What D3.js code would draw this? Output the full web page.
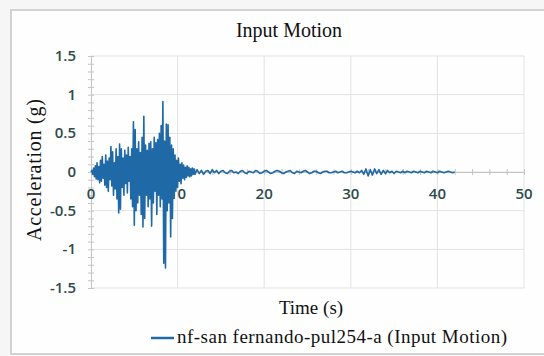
<!DOCTYPE html>
<html>
<head>
<meta charset="utf-8">
<script src="https://cdn.jsdelivr.net/npm/d3@7"></script>
<style>
html,body{margin:0;padding:0;background:#f6f6f6;}
svg{display:block;}
</style>
</head>
<body>
<svg id="chart" width="544" height="356"></svg>
<script>
// ---- data ----
const title = "Input Motion";
const xLabel = "Time (s)";
const yLabel = "Acceleration (g)";
const seriesName = "nf-san fernando-pul254-a (Input Motion)";
const xTicks = [0, 10, 20, 30, 40, 50];
const yTicks = [-1.5, -1, -0.5, 0, 0.5, 1, 1.5];
const yTickLabels = ["-1.5", "-1", "-0.5", "0", "0.5", "1", "1.5"];

// strong-motion part: t = 0.0 .. 12.0 s, every 0.1 s
const strongStart = 0, strongStep = 0.1;
const strongAccel = [
  0, 0.02, -0.03, 0.05, -0.06, 0.08, -0.09, 0.12, -0.1, 0.07,
  -0.14, 0.15, -0.12, 0.2, -0.08, 0.1, -0.17, 0.22, -0.2, 0.14,
  -0.25, 0.18, -0.1, 0.33, -0.18, 0.26, -0.3, 0.12, -0.22, 0.3,
  -0.35, 0.2, -0.53, 0.36, -0.48, 0.3, -0.2, 0.18, -0.3, 0.28,
  -0.15, 0.22, -0.27, 0.32, -0.12, 0.2, -0.35, 0.3, -0.45, 0.65,
  -0.69, 0.55, -0.5, 0.3, -0.4, 0.39, -0.3, 0.25, -0.55, 0.45,
  -0.71, 0.72, -0.6, 0.35, -0.3, 0.28, -0.45, 0.37, -0.35, 0.39,
  -0.7, 0.3, -0.4, 0.45, -0.25, 0.38, -0.55, 0.42, -0.3, 0.5,
  -0.45, 0.6, -0.35, 0.91, -1.18, 0.4, -1.24, 0.62, -0.5, 0.61,
  -0.4, 0.45, -0.84, 0.35, -0.6, 0.3, -0.3, 0.22, -0.25, 0.15,
  -0.2, 0.18, -0.12, 0.1, -0.15, 0.12, -0.08, 0.09, -0.1, 0.06,
  -0.07, 0.08, -0.05, 0.06, -0.06, 0.04, -0.05, 0.05, -0.03, 0.04,
  -0.03
];
// coda: t = 12.25 .. 42.0 s, every 0.25 s
const tailStart = 12.25, tailStep = 0.25;
const tailAccel = [
  0.03, -0.02, 0.02, -0.03, 0.01, 0.02, -0.02, 0.03, -0.01, 0.02,
  -0.02, 0.01, 0.02, -0.01, -0.02, 0.01, 0.02, -0.01, 0.0, -0.02,
  0.01, 0.02, -0.01, -0.02, 0.01, 0.0, -0.01, 0.02, 0.01, -0.02,
  -0.01, 0.01, 0.02, 0.0, -0.02, -0.01, 0.01, 0.02, 0.01, -0.01,
  -0.02, 0.0, 0.01, 0.02, -0.01, -0.02, 0.01, 0.0, -0.01, 0.01,
  0.02, 0.0, -0.02, -0.01, 0.01, 0.01, -0.01, -0.02, 0.0, 0.01,
  0.01, -0.01, -0.01, 0.0, 0.01, -0.01, 0.0, 0.01, -0.01, -0.01,
  0.0, 0.01, 0.0, -0.01, 0.01, -0.01, 0.02, -0.03, 0.04, -0.05,
  0.03, -0.04, 0.04, -0.02, 0.03, -0.03, 0.02, -0.02, 0.02, -0.01,
  0.01, -0.02, 0.01, 0.0, -0.01, 0.01, -0.01, 0.01, 0.0, -0.01,
  0.01, 0.0, -0.01, 0.01, 0.0, -0.01, 0.01, 0.0, -0.01, 0.01,
  0.0, -0.01, 0.01, 0.0, -0.01, 0.0, 0.01, 0.0, -0.01, 0.0
];

// ---- build the series ----
const series = strongAccel.map((a, i) => ({t: strongStart + i * strongStep, a}))
  .concat(tailAccel.map((a, i) => ({t: tailStart + i * tailStep, a})));

// ---- layout ----
const svg = d3.select("#chart");
const plot = {left: 91, right: 524, top: 56, bottom: 288};
const x = d3.scaleLinear().domain([0, 50]).range([plot.left, plot.right]);
const y = d3.scaleLinear().domain([-1.5, 1.5]).range([plot.bottom, plot.top]);

const serif = "'Liberation Serif', 'Times New Roman', serif";
const sans = "'Open Sans', 'Noto Sans', sans-serif";
const lineColor = "#1f69a6";
const gridColor = "#e3e3e3";
const axisColor = "#c4c4c4";
const tickTextColor = "#2f4a4a";

// frame
svg.append("rect").attr("x", 11).attr("y", 10).attr("width", 545).attr("height", 344)
  .attr("fill", "#fefefe").attr("stroke", "#d2d2d2").attr("stroke-width", 2);

// gridlines
svg.append("g").selectAll("line").data(yTicks).join("line")
  .attr("x1", plot.left).attr("x2", plot.right)
  .attr("y1", d => y(d)).attr("y2", d => y(d))
  .attr("stroke", gridColor).attr("stroke-width", 1);
svg.append("g").selectAll("line").data(xTicks.filter(d => d !== 0)).join("line")
  .attr("x1", d => x(d)).attr("x2", d => x(d))
  .attr("y1", plot.top).attr("y2", plot.bottom)
  .attr("stroke", gridColor).attr("stroke-width", 1);

// y axis line with major+minor ticks
const yAxis = d3.axisLeft(y).tickValues(d3.range(-15, 16).map(v => v / 10))
  .tickSize(0).tickFormat("");
const gy = svg.append("g").attr("transform", `translate(${plot.left},0)`).call(yAxis);
gy.select(".domain").attr("stroke", axisColor);
gy.selectAll(".tick line").attr("x1", -3).attr("x2", 3).attr("stroke", axisColor);

// x axis along zero with ticks every 2 s
const xAxis = d3.axisBottom(x).tickValues(d3.range(0, 51, 2)).tickSize(0).tickFormat("");
const gx = svg.append("g").attr("transform", `translate(0,${y(0)})`).call(xAxis);
gx.select(".domain").attr("stroke", axisColor);
gx.selectAll(".tick line").attr("y1", -3).attr("y2", 3).attr("stroke", axisColor);

// tick labels
svg.append("g").selectAll("text").data(yTicks).join("text")
  .attr("x", 76).attr("y", d => y(d) + 5)
  .attr("text-anchor", "end")
  .attr("font-family", sans).attr("font-weight", 600).attr("font-size", 15)
  .attr("fill", tickTextColor)
  .text((d, i) => yTickLabels[i]);
svg.append("g").selectAll("text").data(xTicks).join("text")
  .attr("x", d => x(d)).attr("y", 199)
  .attr("text-anchor", "middle")
  .attr("font-family", sans).attr("font-weight", 600).attr("font-size", 15)
  .attr("fill", tickTextColor)
  .text(d => d);

// series line
const line = d3.line().x(d => x(d.t)).y(d => y(d.a));
svg.append("path").datum(series)
  .attr("d", line).attr("fill", "none")
  .attr("stroke", lineColor).attr("stroke-width", 1.6).attr("stroke-linejoin", "round");

// title & axis labels
svg.append("text").attr("x", 289).attr("y", 37).attr("text-anchor", "middle")
  .attr("font-family", serif).attr("font-size", 20).attr("fill", "#111")
  .text(title);
svg.append("text").attr("x", 311).attr("y", 314).attr("text-anchor", "middle")
  .attr("font-family", serif).attr("font-size", 19).attr("fill", "#111")
  .text(xLabel);
svg.append("text").attr("transform", "translate(41,170) rotate(-90)")
  .attr("text-anchor", "middle")
  .attr("font-family", serif).attr("font-size", 20).attr("fill", "#111")
  .attr("textLength", 142)
  .text(yLabel);

// legend
svg.append("line").attr("x1", 151).attr("x2", 174).attr("y1", 338).attr("y2", 338)
  .attr("stroke", lineColor).attr("stroke-width", 2.5);
svg.append("text").attr("x", 177).attr("y", 343)
  .attr("font-family", serif).attr("font-size", 19).attr("fill", "#111")
  .attr("textLength", 330)
  .text(seriesName);
</script>
</body>
</html>
